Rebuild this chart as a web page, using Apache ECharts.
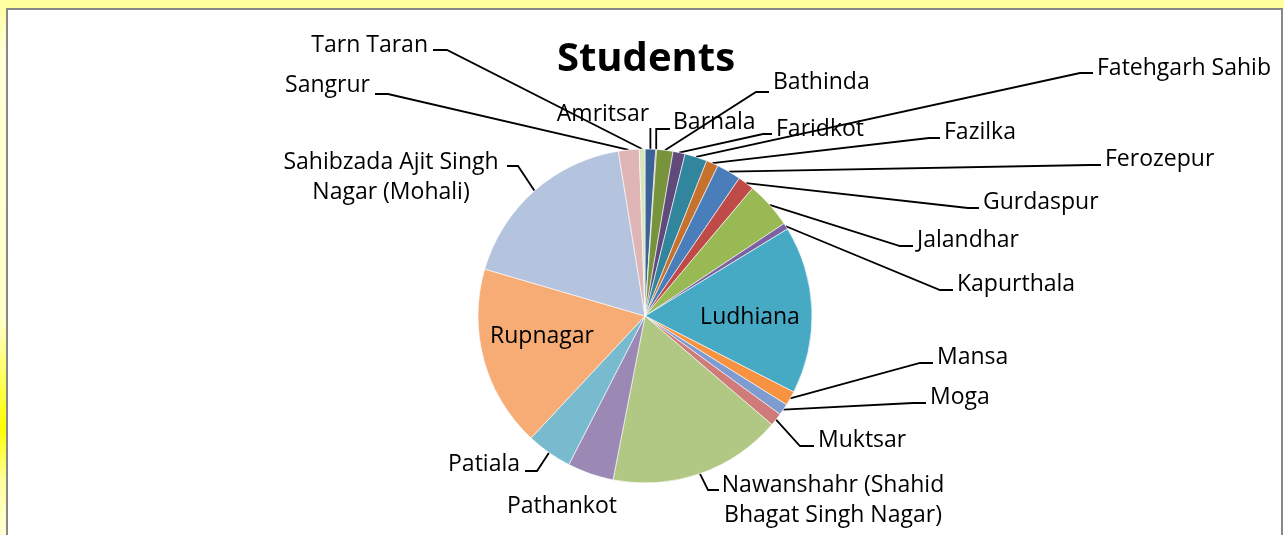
<!DOCTYPE html>
<html><head><meta charset="utf-8">
<script src="https://cdn.jsdelivr.net/npm/echarts@6/dist/echarts.min.js"></script>
<style>html,body{margin:0;padding:0;background:#fff}#c{width:1284px;height:535px}</style>
</head><body><div id="c"></div>
<script>
// ---- data ----
const districts = ["Amritsar","Barnala","Bathinda","Faridkot","Fatehgarh Sahib","Fazilka","Ferozepur","Gurdaspur","Jalandhar","Kapurthala","Ludhiana","Mansa","Moga","Muktsar","Nawanshahr (Shahid Bhagat Singh Nagar)","Pathankot","Patiala","Rupnagar","Sahibzada Ajit Singh Nagar (Mohali)","Sangrur","Tarn Taran"];
const students = [37, 3, 57, 42, 78, 42, 85, 57, 163, 22, 585, 50, 40, 45, 605, 161, 159, 633, 645, 72, 20];
const chartTitle = "Students";

// ---- styles / layout ----
const sliceColors = ["#3A6497","#953735","#77933C","#604A7B","#31859C","#C6712E","#4A7EBB","#BE4B48","#98B954","#7D60A0","#46AAC5","#F69240","#7E9CD0","#CF7B79","#B0C883","#9B88B5","#78BBCF","#F7AC76","#B4C3DE","#DFB6B5","#D8E4BC"];
const wrapped = {
  "Nawanshahr (Shahid Bhagat Singh Nagar)": "Nawanshahr (Shahid\nBhagat Singh Nagar)",
  "Sahibzada Ajit Singh Nagar (Mohali)": "Sahibzada Ajit Singh\nNagar (Mohali)"
};
const insideLabels = ["Ludhiana","Rupnagar"];
const noLeader = ["Pathankot"];
// [x, y, align, leader elbow points (null x => use arc x)]
const labelPos = [
  [603, 112, 'center', [[null,128]]],
  [673, 120, 'left',   [[null,129],[670,129]]],
  [773, 80,  'left',   [[756,92],[769,92]]],
  [776, 127, 'left',   [[763,134],[772,134]]],
  [1097, 66, 'left',   [[1080,73],[1093,73]]],
  [944, 130, 'left',   [[929,138],[940,138]]],
  [1105, 157,'left',   [[1090,165],[1101,165]]],
  [983, 200, 'left',   [[968,208],[979,208]]],
  [917, 238, 'left',   [[900,246],[913,246]]],
  [957, 282, 'left',   [[940,290],[953,290]]],
  [750, 315, 'center', null],
  [937, 355, 'left',   [[920,363],[933,363]]],
  [930, 395, 'left',   [[913,403],[926,403]]],
  [818, 438, 'left',   [[800,446],[814,446]]],
  [833, 498, 'center', [[708,490],[719,490]]],
  [507, 504, 'left',   null],
  [520, 462, 'right',  [[537,471],[525,471]]],
  [542, 334, 'center', null],
  [391, 175, 'center', [[518,166],[507,166]]],
  [370, 83,  'right',  [[388,94],[375,94]]],
  [428, 43,  'right',  [[447,50],[433,50]]]
];
const LABEL_DY = 2;

const FONT = '"Open Sans", "Noto Sans", sans-serif';
const chart = echarts.init(document.getElementById('c'), null, {renderer: 'canvas'});

const pieData = districts.map((d, i) => {
  const item = { name: d, value: students[i], itemStyle: { color: sliceColors[i] } };
  if (insideLabels.includes(d)) item.label = { position: 'inside' };
  if (noLeader.includes(d)) item.labelLine = { show: false };
  return item;
});

chart.setOption({
  animation: false,
  backgroundColor: '#fff',
  graphic: [
    { type: 'rect', silent: true, z: -20, shape: { x: 0, y: 0, width: 1284, height: 9 }, style: { fill: '#FFFF9E' } },
    { type: 'rect', silent: true, z: -20, shape: { x: 0, y: 0, width: 7, height: 535 },
      style: { fill: new echarts.graphic.LinearGradient(0, 0, 0, 1, [
        { offset: 0, color: '#FFFF9E' }, { offset: 0.1, color: '#FFFFD8' },
        { offset: 0.6, color: '#FFFFC8' }, { offset: 0.8, color: '#FFFF00' },
        { offset: 0.9, color: '#FFFFA0' }, { offset: 1, color: '#FFFFD8' }]) } },
    { type: 'rect', silent: true, z: -19, shape: { x: 7, y: 9, width: 1275, height: 545 },
      style: { fill: '#fff', stroke: '#878787', lineWidth: 2 } }
  ],
  title: {
    text: chartTitle, left: 641, top: 35, textAlign: 'center',
    textStyle: { fontFamily: FONT, fontWeight: 'bold', fontSize: 40, color: '#000' }
  },
  series: [{
    type: 'pie',
    center: [645, 316],
    radius: 167,
    startAngle: 90,
    clockwise: true,
    avoidLabelOverlap: false,
    data: pieData,
    itemStyle: { borderColor: '#fff', borderWidth: 0.6 },
    label: {
      show: true,
      position: 'outside',
      formatter: p => wrapped[p.name] || p.name,
      fontFamily: FONT, fontSize: 23, lineHeight: 30, color: '#000'
    },
    labelLine: { show: true, length: 10, length2: 10, lineStyle: { color: '#000', width: 1.8 } },
    emphasis: { disabled: true },
    labelLayout: function (p) {
      const L = labelPos[p.dataIndex];
      const out = { x: L[0], y: L[1] + LABEL_DY, align: L[2], verticalAlign: 'middle' };
      if (L[3] && p.labelLinePoints && p.labelLinePoints.length) {
        const p0 = p.labelLinePoints[0];
        out.labelLinePoints = [[p0[0], p0[1]]].concat(L[3].map(q => [q[0] == null ? p0[0] : q[0], q[1]]));
      }
      return out;
    }
  }]
});
</script></body></html>
